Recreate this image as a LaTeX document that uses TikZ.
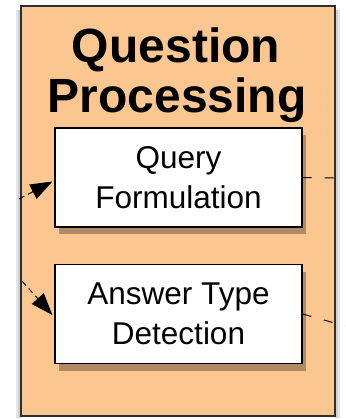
\documentclass[tikz,border=0pt]{standalone}
\usepackage{fontspec}
\setmainfont{Liberation Sans}
\usetikzlibrary{arrows.meta,shadows}
\definecolor{peach}{RGB}{252,198,144}
\definecolor{edgegray}{RGB}{45,45,45}
\tikzset{
  outerbox/.style={draw=edgegray, line width=1.8pt, fill=peach},
  stepbox/.style={draw=black, line width=1.2pt, fill=white,
    minimum width=247pt, minimum height=99pt, inner sep=0pt,
    align=center, font=\fontsize{31.5}{40}\selectfont,
    drop shadow={shadow xshift=4pt, shadow yshift=-7pt, fill=black, opacity=0.3}},
  titletext/.style={font=\fontsize{48}{50}\selectfont\bfseries, anchor=base, inner sep=0pt},
  flowarrow/.style={draw=black, line width=1pt, dash pattern=on 6pt off 4pt,
    -{Triangle[length=22pt,width=16pt]}},
  flowline/.style={draw=black, line width=1pt, dash pattern=on 9pt off 13pt}
}
\begin{document}
\begin{tikzpicture}[x=1pt,y=-1pt]
\useasboundingbox (0,0) rectangle (345,419);
\fill[white] (0,0) rectangle (345,419);
% soft shadow strips beside the frame
\fill[black!10] (16,10) rectangle (21,418);
\fill[black!18] (18,10) rectangle (21,418);
\fill[black!10] (335,10) rectangle (340,418);
\fill[black!18] (335,10) rectangle (338,418);
\node[outerbox, minimum width=314pt, minimum height=410pt, inner sep=0pt] (frame) at (178,211) {};
\node[titletext] (t1) at (176,63) {Question};
\node[titletext] (t2) at (177,113) {Processing};
\node[stepbox] (q) at (178.5,177.5) {Query\\Formulation};
\node[stepbox] (a) at (178.5,314) {Answer Type\\Detection};
\coordinate (in1) at (19,199);
\coordinate (in2) at (22,281);
\coordinate (out1) at (345,178);
\coordinate (out2) at (345,326);
\draw[flowarrow] (in1) -- ([xshift=-2pt,yshift=-4pt]q.west);
\draw[flowarrow] (in2) -- ([xshift=-2pt,yshift=-1pt]a.west);
\draw[flowline] (q.east) -- (out1);
\draw[flowline] (a.east) -- (out2);
\end{tikzpicture}
\end{document}
